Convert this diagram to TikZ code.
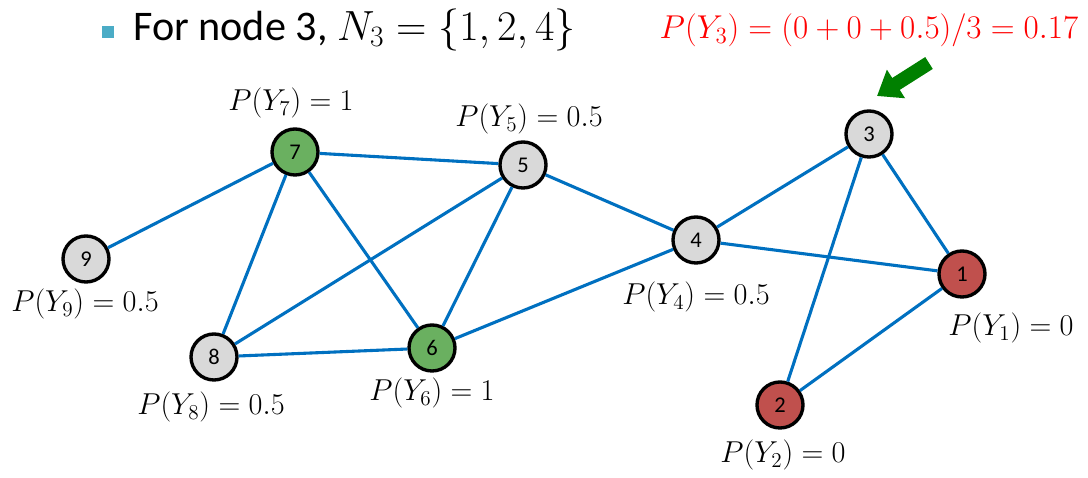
\RequirePackage{fix-cm}
\documentclass[tikz,border=0pt]{standalone}
\usepackage{fontspec}
\newfontfamily\calibri{Carlito}
\usetikzlibrary{arrows.meta}
\definecolor{edgeblue}{RGB}{0,112,192}
\definecolor{nodegray}{RGB}{217,217,217}
\definecolor{nodegreen}{RGB}{106,176,96}
\definecolor{nodered}{RGB}{192,80,77}
\definecolor{bulletblue}{RGB}{75,172,198}
\definecolor{arrowgreen}{RGB}{0,128,0}
\tikzset{
  vert/.style={circle, draw=black, line width=2.4pt, minimum size=1.15cm,
    inner sep=0pt, font=\calibri\fontsize{16}{18}\selectfont},
  prob/.style={font=\fontsize{21.5}{25}\selectfont},
}
\begin{document}
\begin{tikzpicture}[x=0.025cm, y=-0.025cm]
      \useasboundingbox (0,0) rectangle (1088,478);
      % title
      \fill[bulletblue] (102,26) rectangle (114,38);
      \node[anchor=west, inner sep=0pt, font=\calibri\fontsize{30}{34}\selectfont]
        (title) at (133,30) {For node 3, $N_3 = \{1,2,4\}$};
      \node[prob, text=red, font=\fontsize{23.5}{27}\selectfont] (p3) at (869,30)
        {$P(Y_3) = (0+0+0.5)/3 = 0.17$};
      \draw[arrowgreen, line width=10pt, -{Triangle[length=16pt, width=23pt]}]
        (929,63) -- (877,96);
      \draw
        (962,274) node[vert, fill=nodered] (1){1}
        (780,405) node[vert, fill=nodered] (2){2}
        (869,134) node[vert, fill=nodegray] (3){3}
        (696,240) node[vert, fill=nodegray] (4){4}
        (523,165) node[vert, fill=nodegray] (5){5}
        (432,348) node[vert, fill=nodegreen] (6){6}
        (295,152) node[vert, fill=nodegreen] (7){7}
        (214,357) node[vert, fill=nodegray] (8){8}
        (86,259) node[vert, fill=nodegray] (9){9};
      \draw
        (1011,328) node[prob] (p1){$P(Y_1) = 0$}
        (783,455) node[prob] (p2){$P(Y_2) = 0$}
        (696,297) node[prob] (p4){$P(Y_4) = 0.5$}
        (529,119) node[prob] (p5){$P(Y_5) = 0.5$}
        (432,393) node[prob] (p6){$P(Y_6) = 1$}
        (291,103) node[prob] (p7){$P(Y_7) = 1$}
        (211,407) node[prob] (p8){$P(Y_8) = 0.5$}
        (85,304) node[prob] (p9){$P(Y_9) = 0.5$};
      \begin{scope}[-, edgeblue, line width=2.2pt]
        \draw (7) to (9);
        \draw (7) to (5);
        \draw (7) to (8);
        \draw (7) to (6);
        \draw (5) to (8);
        \draw (5) to (6);
        \draw (5) to (4);
        \draw (8) to (6);
        \draw (6) to (4);
        \draw (4) to (3);
        \draw (4) to (1);
        \draw (3) to (1);
        \draw (3) to (2);
        \draw (2) to (1);
      \end{scope}
    \end{tikzpicture}
\end{document}
